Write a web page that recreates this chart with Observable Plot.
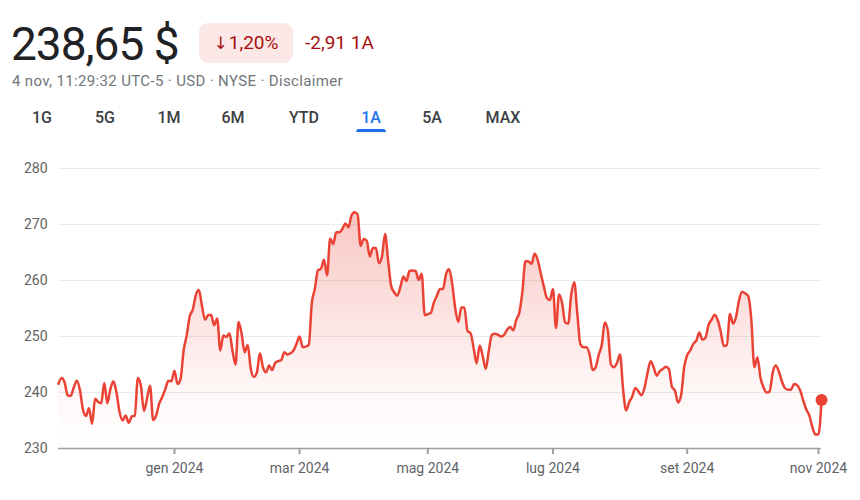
<!DOCTYPE html>
<html>
<head>
<meta charset="utf-8">
<script src="https://cdn.jsdelivr.net/npm/d3@7"></script>
<script src="https://cdn.jsdelivr.net/npm/@observablehq/plot@0.6"></script>
<style>
  html, body { margin: 0; padding: 0; background: #fff; }
  #page { position: relative; width: 860px; height: 500px; font-family: Roboto, "Noto Sans", sans-serif; overflow: hidden; }
  .abs { position: absolute; white-space: nowrap; }
  #price { left: 11px; top: 14px; font-size: 46px; color: #202124; letter-spacing: -1px; line-height: 60px; }
  #badge { left: 199px; top: 23px; width: 94px; height: 40px; border-radius: 9px; background: #fce8e6; color: #a50e0e; font-size: 19px; line-height: 40px; text-align: center; }
  #badge .arrow { font-family: "DejaVu Sans", sans-serif; font-size: 17px; margin-right: 1px; }
  #change { left: 305px; top: 23px; font-size: 19px; line-height: 40px; color: #a50e0e; }
  #sub { left: 12px; top: 72px; font-size: 15px; letter-spacing: 0.35px; line-height: 18px; color: #70757a; }
  .tab { position: absolute; top: 107px; font-size: 16px; line-height: 22px; font-weight: 500; color: #3c4043; transform: translateX(-50%); }
  .tab.active { color: #1a73e8; }
  #underline { left: 356px; top: 129px; width: 30px; height: 3px; border-radius: 3px 3px 0 0; background: #1a73e8; }
  #chart { position: absolute; left: 0; top: 140px; }
  #chart g[aria-label="x-axis tick"] { stroke: #9aa0a6; stroke-width: 2; }
</style>
</head>
<body>
<div id="page">
  <div id="price" class="abs"></div>
  <div id="badge" class="abs"><span class="arrow"></span><span class="pct"></span></div>
  <div id="change" class="abs"></div>
  <div id="sub" class="abs"></div>
  <div id="tabs"></div>
  <div id="underline" class="abs"></div>
  <div id="chart"></div>
</div>
<script>
// ---- header texts ----
const priceText = "238,65 $";
const badgeArrow = "↓";
const badgeText = "1,20%";
const changeText = "-2,91 1A";
const subText = "4 nov, 11:29:32 UTC-5 · USD · NYSE · Disclaimer";
const tabLabels = ["1G", "5G", "1M", "6M", "YTD", "1A", "5A", "MAX"];
const tabCenters = [42, 105, 169, 233, 304, 371, 432, 503];
const activeTab = "1A";

// ---- chart data: daily closes (one per trading day, Nov 2023 – 4 Nov 2024) ----
const closes = [
  241.56, 242.6, 241.8, 239.5, 239.4, 240.9, 242.1, 240.5, 237.0, 235.8,
  237.2, 234.4, 238.9, 238.3, 238.1, 241.7, 238.1, 240.6, 242.0, 240.0,
  236.5, 235.0, 235.9, 234.6, 235.7, 235.9, 242.6, 241.2, 236.7, 238.9,
  241.2, 235.1, 235.9, 238.0, 239.2, 240.6, 242.1, 242.0, 243.9, 241.5,
  242.4, 247.5, 250.2, 253.6, 254.8, 257.4, 258.3, 255.5, 253.0, 253.8,
  253.9, 252.0, 253.2, 247.5, 250.2, 249.9, 250.6, 247.5, 245.0, 252.6,
  250.5, 247.2, 248.5, 244.2, 242.8, 243.6, 247.0, 244.5, 243.6, 244.8,
  244.0, 245.3, 245.6, 245.8, 247.2, 246.8, 247.0, 247.5, 248.7, 250.0,
  248.1, 248.2, 248.5, 256.0, 258.5, 261.8, 262.1, 263.7, 260.9, 267.5,
  266.5, 268.6, 268.6, 269.2, 270.2, 269.5, 271.6, 272.2, 271.8, 266.2,
  267.4, 267.1, 264.3, 265.8, 265.8, 263.1, 264.3, 268.3, 263.6, 259.0,
  257.9, 257.3, 258.8, 260.7, 259.9, 261.7, 261.8, 261.7, 260.1, 261.2,
  253.8, 254.0, 254.2, 256.1, 257.3, 258.5, 258.5, 261.2, 262.0, 259.4,
  255.0, 252.6, 255.2, 255.2, 251.0, 250.6, 248.0, 245.2, 248.4, 246.5,
  244.2, 247.5, 250.3, 250.5, 250.3, 250.0, 250.3, 251.2, 251.7, 251.1,
  253.0, 254.3, 258.0, 263.5, 263.4, 263.0, 264.8, 263.7, 261.3, 259.0,
  256.9, 256.5, 258.5, 251.5, 257.5, 256.0, 252.5, 252.3, 257.5, 259.7,
  254.0, 248.6, 248.1, 248.1, 246.8, 244.0, 244.5, 246.7, 248.5, 252.5,
  251.0, 245.0, 244.5, 245.3, 246.8, 240.5, 236.8, 238.3, 239.3, 240.8,
  240.2, 239.5, 240.8, 243.5, 245.6, 244.5, 243.0, 243.8, 244.2, 244.6,
  244.2, 241.0, 240.3, 238.2, 239.5, 244.5, 246.7, 247.5, 248.7, 249.3,
  250.7, 249.4, 249.8, 252.1, 253.0, 253.9, 252.9, 250.8, 248.3, 248.5,
  254.0, 252.3, 253.5, 256.5, 258.0, 257.7, 257.2, 253.0, 244.5, 246.3,
  242.7, 240.9, 240.0, 240.2, 243.5, 244.8, 243.8, 242.0, 240.8, 240.5,
  240.5, 241.5, 241.3, 240.4, 238.6, 237.0, 235.9, 233.8, 232.5, 232.5,
  238.65
];
// first trading day of each month (position in closes) and its label
const monthTickIndex = [38, 79, 121, 162, 206, 249];
const monthTickLabels = ["gen 2024", "mar 2024", "mag 2024", "lug 2024", "set 2024", "nov 2024"];
const yTicks = [230, 240, 250, 260, 270, 280];
const yDomain = [230, 280];

// ---- header ----
document.getElementById("price").textContent = priceText;
document.querySelector("#badge .arrow").textContent = badgeArrow;
document.querySelector("#badge .pct").textContent = badgeText;
document.getElementById("change").textContent = changeText;
document.getElementById("sub").textContent = subText;
const tabs = document.getElementById("tabs");
tabLabels.forEach((t, k) => {
  const el = document.createElement("div");
  el.className = "tab" + (t === activeTab ? " active" : "");
  el.style.left = tabCenters[k] + "px";
  el.textContent = t;
  tabs.appendChild(el);
});

// ---- chart ----
const data = closes.map((v, i) => ({i, v}));
const last = data[data.length - 1];
const labelOf = new Map(monthTickIndex.map((d, k) => [d, monthTickLabels[k]]));
const red = "#ea4335";

const chart = Plot.plot({
  width: 860,
  height: 360,
  marginTop: 28,
  marginBottom: 52,
  marginLeft: 58,
  marginRight: 39,
  style: {fontFamily: "Roboto, sans-serif", fontSize: "14px", color: "#5f6368", background: "transparent", overflow: "visible"},
  x: {type: "linear", domain: [0, closes.length - 1], ticks: monthTickIndex, tickFormat: d => labelOf.get(d), tickSize: 6, tickPadding: 9, label: null},
  y: {domain: yDomain, ticks: yTicks, tickSize: 0, tickPadding: 11, label: null},
  marks: [
    Plot.ruleY(yTicks.filter(d => d !== yDomain[0]), {stroke: "#e8eaed", strokeWidth: 1}),
    Plot.areaY(data, {x: "i", y1: yDomain[0], y2: "v", fill: "url(#pgrad)", curve: "monotone-x"}),
    Plot.lineY(data, {x: "i", y: "v", stroke: red, strokeWidth: 2.5, curve: "monotone-x"}),
    Plot.ruleY([yDomain[0]], {stroke: "#9aa0a6", strokeWidth: 1.6}),
    Plot.dot([last], {x: "i", y: "v", r: 6, fill: red})
  ]
});
const svg = chart.tagName.toLowerCase() === "svg" ? chart : chart.querySelector("svg");
d3.select(svg).insert("defs", ":first-child").html(
  `<linearGradient id="pgrad" x1="0" y1="0" x2="0" y2="1">
     <stop offset="0" stop-color="${red}" stop-opacity="0.30"/>
     <stop offset="0.75" stop-color="${red}" stop-opacity="0.04"/>
     <stop offset="1" stop-color="${red}" stop-opacity="0"/>
   </linearGradient>`
);
document.getElementById("chart").appendChild(chart);
</script>
</body>
</html>
